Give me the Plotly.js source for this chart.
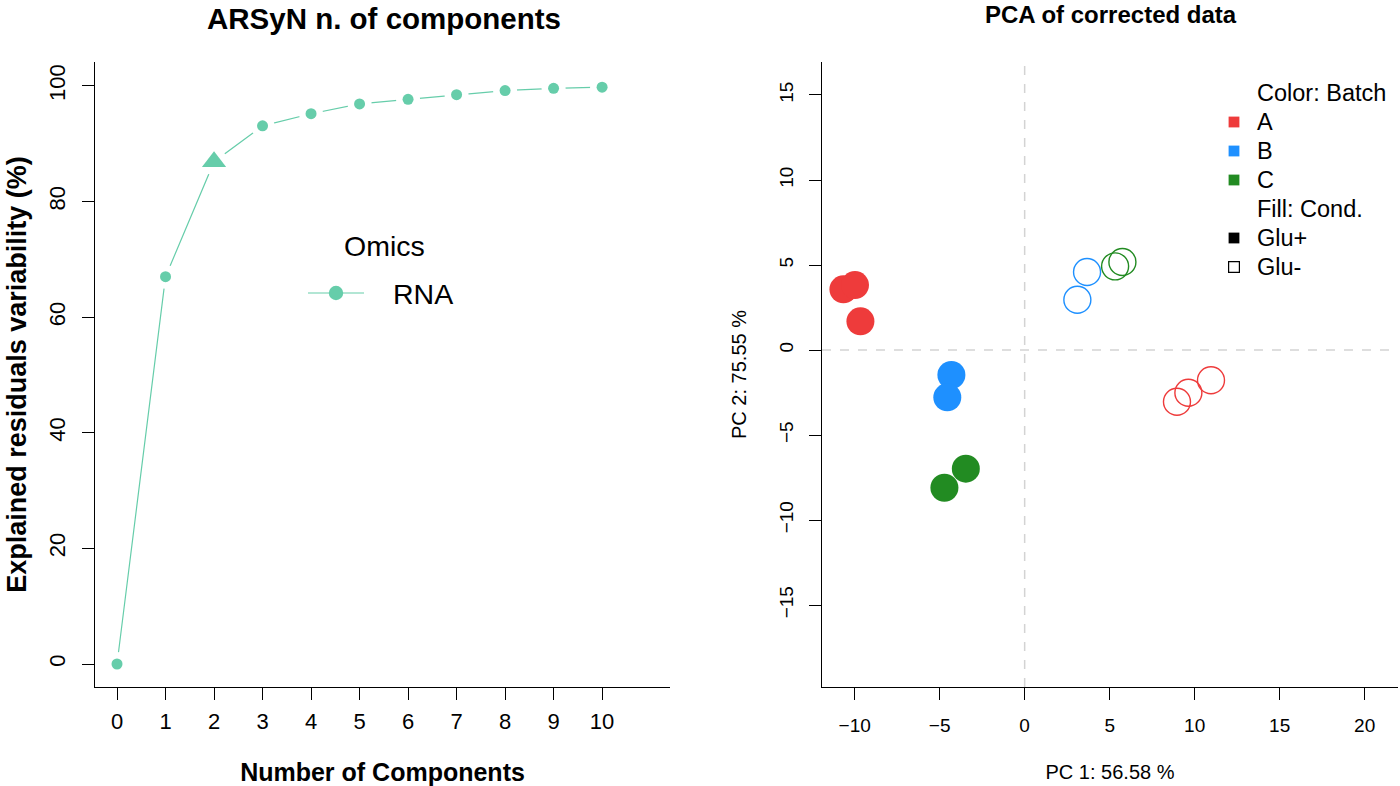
<!DOCTYPE html>
<html>
<head>
<meta charset="utf-8">
<script src="https://cdn.plot.ly/plotly-3.0.1.min.js"></script>
<style>html,body{margin:0;padding:0;background:#fff;}#chart{width:1400px;height:786px;}</style>
</head>
<body>
<div id="chart"></div>
<script>
// ---- Data: ARSyN number of components ----
const components = [0, 1, 2, 3, 4, 5, 6, 7, 8, 9, 10];
const explainedVar = [0, 67.0, 86.9, 93.1, 95.2, 96.9, 97.7, 98.5, 99.2, 99.6, 99.8];
const selectedComp = 2;
const omicsName = "RNA";
const omicsTitle = "Omics";

// ---- Data: PCA of corrected data ----
const pcaBatch = ["A", "A", "A", "B", "B", "C", "C", "A", "A", "A", "B", "B", "C", "C"];
const pcaCond = ["Glu+", "Glu+", "Glu+", "Glu+", "Glu+", "Glu+", "Glu+", "Glu-", "Glu-", "Glu-", "Glu-", "Glu-", "Glu-", "Glu-"];
const pc1 = [-10.66, -9.98, -9.66, -4.31, -4.55, -3.46, -4.72, 8.96, 9.63, 10.96, 3.67, 3.10, 5.32, 5.75];
const pc2 = [3.57, 3.82, 1.69, -1.47, -2.78, -6.98, -8.10, -3.04, -2.51, -1.78, 4.59, 2.96, 4.92, 5.18];
const batchLevels = ["A", "B", "C"];
const condLevels = ["Glu+", "Glu-"];
const colorLegendTitle = "Color: Batch";
const fillLegendTitle = "Fill: Cond.";
const pc1Label = "PC 1: 56.58 %";
const pc2Label = "PC 2: 75.55 %";

// ---- Styles ----
const batchColors = {A: "#EE3B3B", B: "#1E90FF", C: "#228B22"};
const teal = "#66CDAA";
const FONT = "Liberation Sans, Arial, Helvetica, sans-serif";
const W = 1400, H = 786;
const px = v => v / W;          // horizontal pixel -> paper
const py = v => 1 - v / H;      // vertical pixel (from top) -> paper

const traces = [];

// Left: line (type "b" style: line with gaps around points)
traces.push({
  x: components, y: explainedVar, xaxis: "x", yaxis: "y",
  type: "scatter", mode: "lines", showlegend: false,
  line: {color: teal, width: 1.2}, cliponaxis: false, hoverinfo: "skip"
});
traces.push({
  x: components, y: explainedVar, xaxis: "x", yaxis: "y",
  type: "scatter", mode: "markers", showlegend: false,
  marker: {color: "#ffffff", opacity: 1, size: components.map(c => c === selectedComp ? 27 : 24), symbol: "circle", line: {width: 0}},
  cliponaxis: false, hoverinfo: "skip"
});
traces.push({
  x: components, y: explainedVar, xaxis: "x", yaxis: "y",
  type: "scatter", mode: "markers", showlegend: false, name: omicsName,
  marker: {
    color: teal, opacity: 1,
    symbol: components.map(c => c === selectedComp ? "triangle-up" : "circle"),
    size: components.map(c => c === selectedComp ? 21 : 11),
    line: {width: 0}
  },
  cliponaxis: false
});

// Right: PCA points
batchLevels.forEach(b => {
  condLevels.forEach(c => {
    const idx = pcaBatch.map((v, i) => (v === b && pcaCond[i] === c) ? i : -1).filter(i => i >= 0);
    const filled = c === condLevels[0];
    traces.push({
      x: idx.map(i => pc1[i]),
      y: idx.map(i => pc2[i]),
      xaxis: "x2", yaxis: "y2",
      type: "scatter", mode: "markers", showlegend: false,
      name: b + " " + c,
      marker: filled
        ? {color: batchColors[b], opacity: 1, size: 28, symbol: "circle", line: {width: 0}}
        : {color: batchColors[b], opacity: 1, size: 27, symbol: "circle-open", line: {width: 1.4, color: batchColors[b]}}
    });
  });
});

const axisBase = {
  showline: true, linecolor: "#000", linewidth: 1,
  ticks: "outside", ticklen: 12, tickcolor: "#000", tickwidth: 1,
  showgrid: false, zeroline: false, mirror: false, fixedrange: true
};

// ---- Legends (R-style, drawn as text + key shapes) ----
const annotations = [
  {text: "<b>ARSyN n. of components</b>", xref: "paper", yref: "paper",
   x: px(384), y: py(18), xanchor: "center", yanchor: "middle", showarrow: false, font: {size: 29.5}},
  {text: "<b>PCA of corrected data</b>", xref: "paper", yref: "paper",
   x: px(1111), y: py(15), xanchor: "center", yanchor: "middle", showarrow: false, font: {size: 24}},
  {text: omicsTitle, xref: "paper", yref: "paper", x: px(384), y: py(246),
   xanchor: "center", yanchor: "middle", showarrow: false, font: {size: 28.5}},
  {text: omicsName, xref: "paper", yref: "paper", x: px(391), y: py(294),
   xanchor: "left", yanchor: "middle", showarrow: false, font: {size: 28.5}}
];
const shapes = [
  {type: "line", xref: "x2", yref: "y2 domain", x0: 0, x1: 0, y0: 0, y1: 1,
   line: {color: "#D3D3D3", width: 1.5, dash: "dash"}, layer: "below"},
  {type: "line", xref: "x2 domain", yref: "y2", x0: 0, x1: 1, y0: 0, y1: 0,
   line: {color: "#D3D3D3", width: 1.5, dash: "dash"}, layer: "below"},
  // RNA key: line + point
  {type: "line", xref: "paper", yref: "paper", x0: px(308), x1: px(364), y0: py(293), y1: py(293),
   line: {color: teal, width: 1.2}},
  {type: "circle", xref: "paper", yref: "paper", x0: px(336 - 7.2), x1: px(336 + 7.2), y0: py(293 - 7.2), y1: py(293 + 7.2),
   fillcolor: teal, line: {width: 0}}
];

const rightLegendRows = [
  {label: colorLegendTitle, key: null},
  ...batchLevels.map(b => ({label: b, key: {fill: batchColors[b], line: batchColors[b], lw: 0}})),
  {label: fillLegendTitle, key: null},
  {label: condLevels[0], key: {fill: "#000000", line: "#000000", lw: 0}},
  {label: condLevels[1], key: {fill: "#ffffff", line: "#000000", lw: 1.2}}
];
const legTop = 93, legStep = 29, legTextX = 1255, legKeyX = 1234, keyHalf = 5.4;
rightLegendRows.forEach((r, i) => {
  const yc = legTop + i * legStep;
  annotations.push({text: r.label, xref: "paper", yref: "paper", x: px(legTextX), y: py(yc),
    xanchor: "left", yanchor: "middle", showarrow: false, font: {size: 23.5}});
  if (r.key) {
    shapes.push({type: "rect", xref: "paper", yref: "paper",
      x0: px(legKeyX - keyHalf), x1: px(legKeyX + keyHalf), y0: py(yc - keyHalf), y1: py(yc + keyHalf),
      fillcolor: r.key.fill, line: {color: r.key.line, width: r.key.lw}});
  }
});

const layout = {
  width: W, height: H,
  margin: {l: 0, r: 0, t: 0, b: 0},
  paper_bgcolor: "#fff", plot_bgcolor: "#fff",
  font: {family: FONT, color: "#000"},
  showlegend: false,
  xaxis: Object.assign({}, axisBase, {
    domain: [px(95), px(670)],
    range: [-0.454, 11.40],
    tickmode: "array", tickvals: components, ticktext: components.map(String),
    tickfont: {size: 22}, ticklabelstandoff: 3,
    title: {text: "<b>Number of Components</b>", font: {size: 25}, standoff: 30},
    anchor: "y"
  }),
  yaxis: Object.assign({}, axisBase, {
    domain: [1 - 687/H, 1 - 62/H],
    range: [-3.98, 104.15],
    tickmode: "array", tickvals: [0, 20, 40, 60, 80, 100],
    tickangle: -90, tickfont: {size: 22}, ticklabelstandoff: 8,
    title: {text: "<b>Explained residuals variability (%)</b>", font: {size: 27}, standoff: 10},
    anchor: "x"
  }),
  xaxis2: Object.assign({}, axisBase, {
    domain: [px(822), px(1398)],
    range: [-11.92, 21.96],
    tickmode: "array", tickvals: [-10, -5, 0, 5, 10, 15, 20],
    tickfont: {size: 19}, ticklabelstandoff: 9,
    title: {text: pc1Label, font: {size: 20}, standoff: 30},
    anchor: "y2"
  }),
  yaxis2: Object.assign({}, axisBase, {
    domain: [1 - 687/H, 1 - 62/H],
    range: [-19.82, 16.94],
    tickmode: "array", tickvals: [-15, -10, -5, 0, 5, 10, 15],
    tickangle: -90, tickfont: {size: 19}, ticklabelstandoff: 8,
    title: {text: pc2Label, font: {size: 20}, standoff: 24},
    anchor: "x2"
  }),
  shapes: shapes,
  annotations: annotations
};

Plotly.newPlot("chart", traces, layout, {displayModeBar: false, staticPlot: true});
</script>
</body>
</html>
